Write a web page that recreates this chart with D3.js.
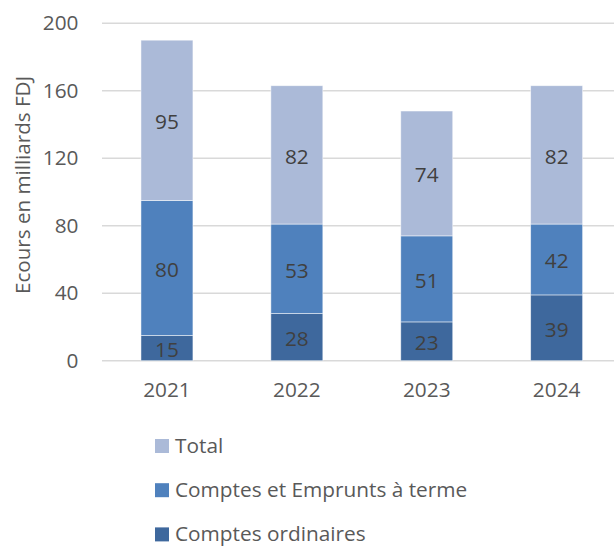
<!DOCTYPE html>
<html>
<head>
<meta charset="utf-8">
<script src="https://cdn.jsdelivr.net/npm/d3@7/dist/d3.min.js"></script>
<style>
  html, body { margin: 0; padding: 0; background: #fff; }
  svg { display: block; font-family: "Open Sans", "Noto Sans", sans-serif; }
</style>
</head>
<body>
<svg id="chart" width="614" height="547"></svg>
<script>
// Years on the x axis
const years = ["2021", "2022", "2023", "2024"];
// Stacked series, bottom to top
const comptesOrdinaires = [15, 28, 23, 39];
const comptesEtEmprunts = [80, 53, 51, 42];
const total = [95, 82, 74, 82];
// Y axis ticks
const yTicks = [0, 40, 80, 120, 160, 200];

const seriesNames = ["Comptes ordinaires", "Comptes et Emprunts à terme", "Total"];
const seriesValues = [comptesOrdinaires, comptesEtEmprunts, total];
const seriesColors = ["#3e689d", "#4f81bd", "#abbad8"];

const rows = years.map((y, i) => {
  const r = { year: y };
  seriesNames.forEach((n, k) => { r[n] = seriesValues[k][i]; });
  return r;
});

const FONT = 20.8;
const svg = d3.select("#chart");
// Plot area runs past the right edge of the canvas
const plot = { left: 102, right: 621.6, top: 23.3, bottom: 360.7 };

const x = d3.scaleBand().domain(years).range([plot.left, plot.right]).paddingInner(0.6).paddingOuter(0.3);
const y = d3.scaleLinear().domain([0, 200]).range([plot.bottom, plot.top]);

// Horizontal gridlines
svg.append("g")
  .selectAll("line")
  .data(yTicks)
  .join("line")
  .attr("x1", plot.left)
  .attr("x2", 614)
  .attr("y1", d => y(d))
  .attr("y2", d => y(d))
  .attr("stroke", "#d9d9d9")
  .attr("stroke-width", 1.4);

// Y axis labels
const yAxis = d3.axisLeft(y).tickValues(yTicks).tickSize(0).tickPadding(0);
svg.append("g")
  .attr("transform", `translate(${plot.left - 23.5},0)`)
  .call(yAxis)
  .call(g => g.select(".domain").remove())
  .call(g => g.selectAll("text")
    .attr("font-family", "Open Sans, sans-serif")
    .attr("font-size", FONT)
    .attr("fill", "#595959"));

// X axis labels
const xAxis = d3.axisBottom(x).tickSize(0).tickPadding(0);
svg.append("g")
  .attr("transform", `translate(0,${plot.bottom + 21.5})`)
  .call(xAxis)
  .call(g => g.select(".domain").remove())
  .call(g => g.selectAll("text")
    .attr("font-family", "Open Sans, sans-serif")
    .attr("font-size", FONT)
    .attr("fill", "#595959"));

// Stacked bars
const stack = d3.stack().keys(seriesNames);
const stacked = stack(rows);

const layers = svg.append("g")
  .selectAll("g")
  .data(stacked)
  .join("g")
  .attr("fill", (d, i) => seriesColors[i]);

layers.selectAll("rect")
  .data(d => d)
  .join("rect")
  .attr("x", d => x(d.data.year))
  .attr("width", x.bandwidth())
  .attr("y", d => y(d[1]))
  .attr("height", d => y(d[0]) - y(d[1]))
  .attr("stroke", "#ffffff")
  .attr("stroke-opacity", 0.6)
  .attr("stroke-width", 0.8);

// Value labels centred in each segment
layers.selectAll("text")
  .data(d => d.map(p => ({ p, key: d.key })))
  .join("text")
  .attr("x", d => x(d.p.data.year) + x.bandwidth() / 2)
  .attr("y", d => y((d.p[0] + d.p[1]) / 2) + 1.5)
  .attr("dy", "0.36em")
  .attr("text-anchor", "middle")
  .attr("font-size", FONT)
  .attr("fill", "#404040")
  .text(d => d.p.data[d.key]);

// Y axis title
svg.append("text")
  .attr("transform", "translate(30,185) rotate(-90)")
  .attr("text-anchor", "middle")
  .attr("font-size", 20.6)
  .attr("fill", "#595959")
  .text("Ecours en milliards FDJ");

// Legend (top series first)
const legendItems = [2, 1, 0];
const legend = svg.append("g")
  .selectAll("g")
  .data(legendItems)
  .join("g")
  .attr("transform", (d, i) => `translate(155,${446 + i * 44.2})`);

legend.append("rect")
  .attr("x", 0)
  .attr("y", -7)
  .attr("width", 14)
  .attr("height", 14)
  .attr("fill", d => seriesColors[d]);

legend.append("text")
  .attr("x", 20)
  .attr("y", 0)
  .attr("dy", "0.34em")
  .attr("font-size", FONT)
  .attr("fill", "#595959")
  .text(d => seriesNames[d]);
</script>
</body>
</html>
